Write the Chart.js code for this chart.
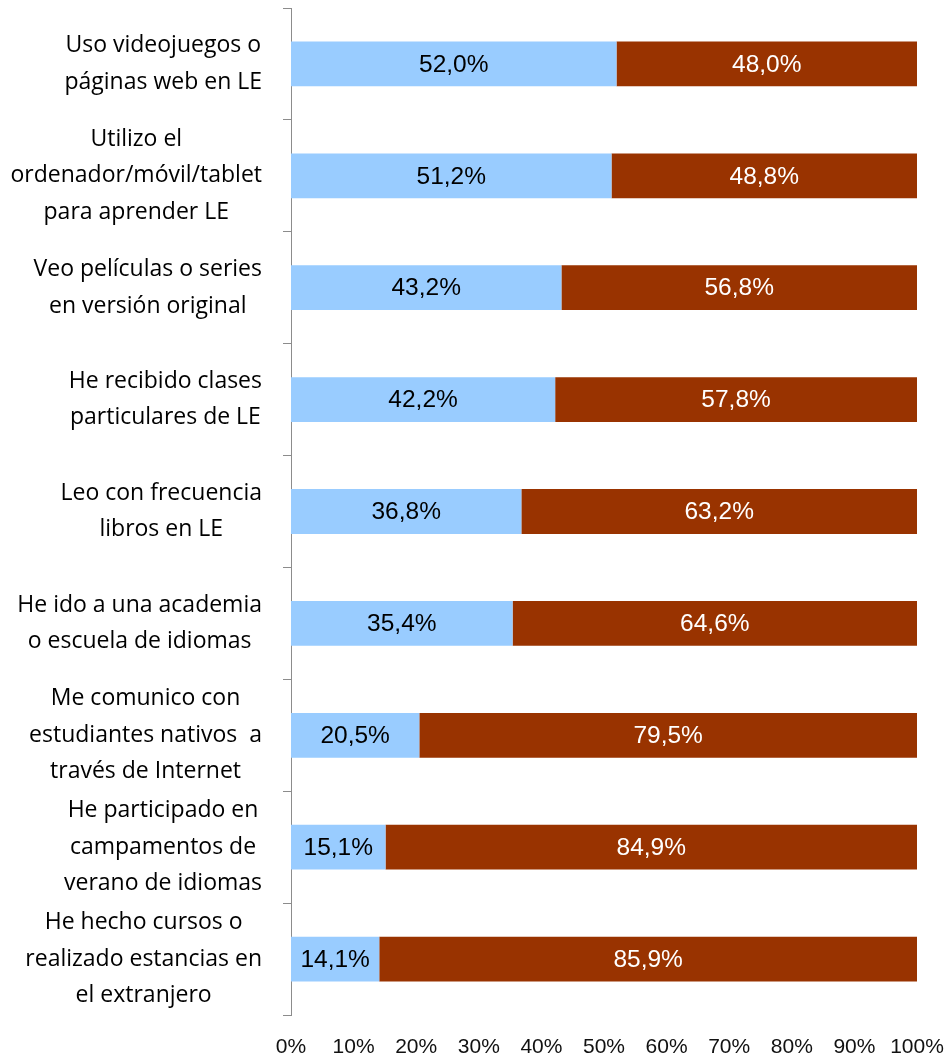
<!DOCTYPE html>
<html>
<head>
<meta charset="utf-8">
<script src="https://cdn.jsdelivr.net/npm/chart.js@4/dist/chart.umd.min.js"></script>
<style>
  html, body { margin: 0; padding: 0; background: #ffffff; }
  #wrap { width: 946px; height: 1058px; position: relative; }
</style>
</head>
<body>
<div id="wrap"><canvas id="c" width="946" height="1058"></canvas></div>
<script>
const categories = [
  ["Uso videojuegos o", "páginas web en LE"],
  ["Utilizo el", "ordenador/móvil/tablet", "para aprender LE"],
  ["Veo películas o series", "en versión original"],
  ["He recibido clases", "particulares de LE"],
  ["Leo con frecuencia", "libros en LE"],
  ["He ido a una academia", "o escuela de idiomas"],
  ["Me comunico con", "estudiantes nativos  a", "través de Internet"],
  ["He participado en", "campamentos de", "verano de idiomas"],
  ["He hecho cursos o", "realizado estancias en", "el extranjero"]
];
const seriesYes = [52.0, 51.2, 43.2, 42.2, 36.8, 35.4, 20.5, 15.1, 14.1];
const seriesNo  = [48.0, 48.8, 56.8, 57.8, 63.2, 64.6, 79.5, 84.9, 85.9];
const xTickValues = [0, 10, 20, 30, 40, 50, 60, 70, 80, 90, 100];

const AXIS_W = 291;
const TICK_LEN = 8;
const LABEL_PAD = 21;
const LINE_H = 36.5;

const fmt = v => v.toFixed(1).replace('.', ',') + '%';

const yLabelPlugin = {
  id: 'yLabels',
  afterDraw(chart) {
    const ctx = chart.ctx;
    const ys = chart.scales.y;
    ctx.save();
    ctx.font = '23px "Open Sans"';
    ctx.fillStyle = '#000000';
    ctx.textAlign = 'center';
    ctx.textBaseline = 'middle';
    const right = ys.right - TICK_LEN - LABEL_PAD;
    categories.forEach((lines, i) => {
      const cy = ys.getPixelForValue(i);
      let w = 0;
      lines.forEach(l => { w = Math.max(w, ctx.measureText(l).width); });
      const cx = right - w / 2;
      lines.forEach((l, j) => {
        ctx.fillText(l, cx, cy + (j - (lines.length - 1) / 2) * LINE_H);
      });
    });
    ctx.restore();
  }
};

const valueLabelPlugin = {
  id: 'valueLabels',
  afterDatasetsDraw(chart) {
    const ctx = chart.ctx;
    ctx.save();
    ctx.font = '24.5px "Liberation Sans", Arial, sans-serif';
    ctx.textAlign = 'center';
    ctx.textBaseline = 'middle';
    chart.data.datasets.forEach((ds, di) => {
      const meta = chart.getDatasetMeta(di);
      meta.data.forEach((bar, i) => {
        const p = bar.getProps(['x', 'y', 'base'], true);
        const cx = (p.x + p.base) / 2;
        ctx.fillStyle = ds.labelColor;
        ctx.fillText(fmt(ds.data[i]), cx, p.y + 1);
      });
    });
    ctx.restore();
  }
};

new Chart(document.getElementById('c'), {
  type: 'bar',
  data: {
    labels: categories,
    datasets: [
      { label: 'Sí', data: seriesYes, backgroundColor: '#99CCFF', labelColor: '#000000',
        categoryPercentage: 1, barPercentage: 0.4 },
      { label: 'No', data: seriesNo, backgroundColor: '#993300', labelColor: '#ffffff',
        categoryPercentage: 1, barPercentage: 0.4 }
    ]
  },
  options: {
    indexAxis: 'y',
    responsive: false,
    animation: false,
    layout: { padding: { top: 8, right: 29, bottom: 0, left: 0 } },
    plugins: { legend: { display: false }, tooltip: { enabled: false } },
    scales: {
      x: {
        stacked: true,
        min: 0, max: 100,
        afterBuildTicks(scale) { scale.ticks = xTickValues.map(v => ({ value: v })); },
        grid: { display: false, drawTicks: false },
        border: { display: false },
        ticks: {
          padding: 20,
          color: '#111111',
          font: { family: '"Liberation Sans", Arial, sans-serif', size: 21 },
          callback: v => v + '%',
          maxRotation: 0, autoSkip: false
        },
        afterFit(scale) {
          scale.height = 43;
          scale.paddingLeft = 0;
          scale.paddingRight = 0;
        }
      },
      y: {
        stacked: true,
        grid: { display: true, drawOnChartArea: false, drawTicks: true, tickLength: TICK_LEN,
                color: '#8c8c8c', offset: true, lineWidth: 1 },
        border: { display: true, color: '#8c8c8c', width: 1 },
        ticks: { display: false },
        afterFit(scale) { scale.width = AXIS_W; }
      }
    }
  },
  plugins: [yLabelPlugin, valueLabelPlugin]
});
</script>
</body>
</html>
